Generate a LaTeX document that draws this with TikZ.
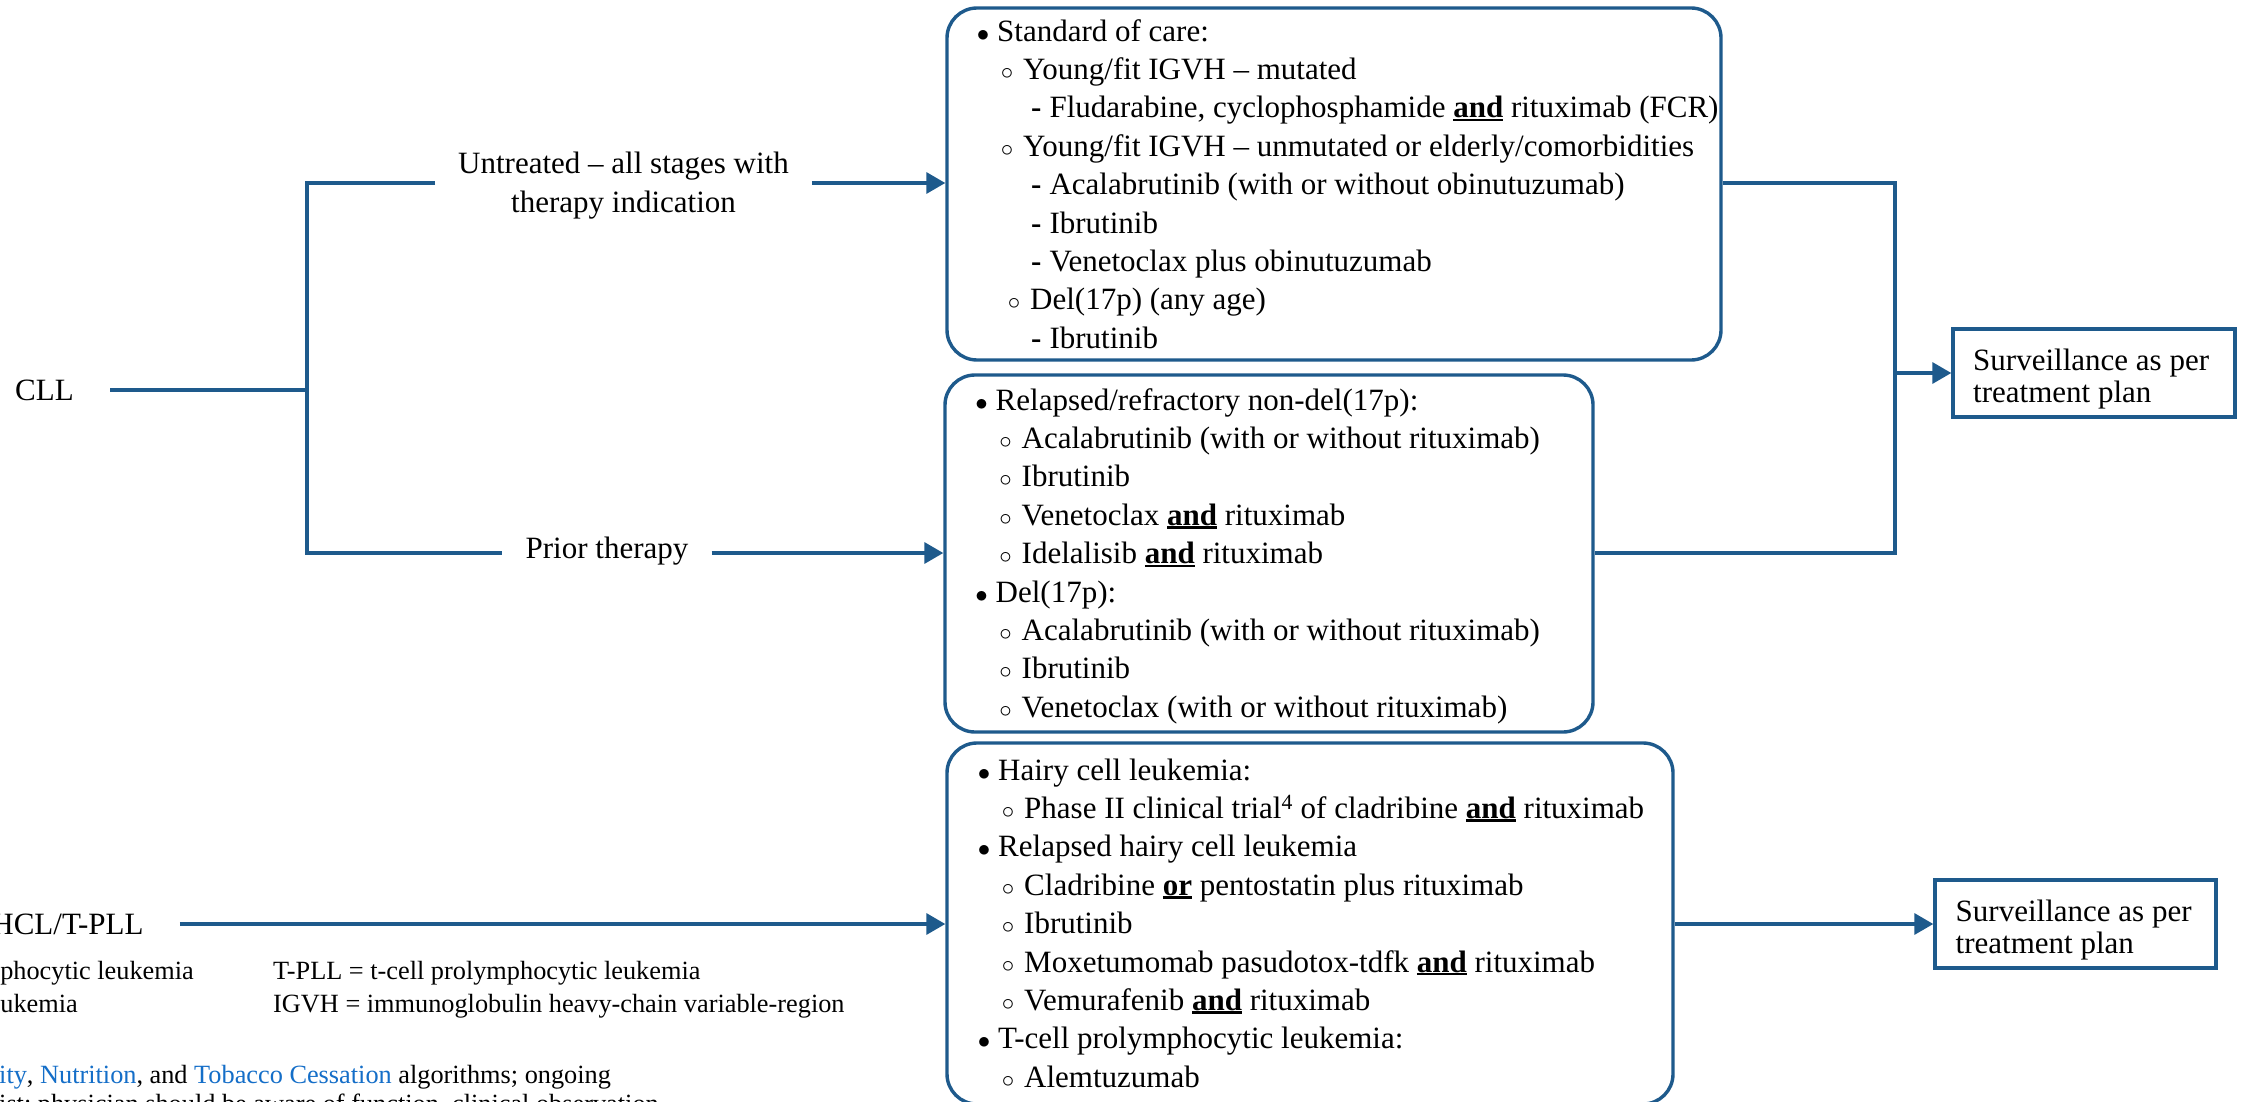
\documentclass[tikz,border=0pt]{standalone}
\usepackage{fontspec}
\setmainfont{Liberation Serif}
\usetikzlibrary{arrows.meta}
\definecolor{nav}{RGB}{30,90,140}
\definecolor{lnk}{RGB}{20,110,200}
\newcommand\Ba{\makebox[16pt][c]{\fontsize{24.88}{26}\selectfont$\bullet$}\hspace{6pt}}
\newcommand\Bb{\makebox[16pt][c]{\fontsize{24.88}{26}\selectfont$\circ$}\hspace{8pt}}
\newcommand\Bc{\textbf{-}\hspace{8pt}}
\newcommand\und[1]{\begingroup\setbox0\hbox{\bfseries #1}\rlap{\rule[-3.2pt]{\wd0}{2.3pt}}\box0\endgroup}
\begin{document}
\begin{tikzpicture}[x=1pt,y=-1pt,
  conn/.style={color=nav,line width=3.4pt},
  arr/.style={conn,-{Triangle[length=19pt,width=21pt]}},
  rbox/.style={draw=nav,line width=3.4pt,rounded corners=30pt,inner sep=0pt},
  sbox/.style={draw=nav,line width=3.4pt,inner sep=0pt,minimum width=282pt,minimum height=88pt},
  lbl/.style={font=\fontsize{31}{39}\selectfont,inner ysep=0pt},
  btext/.style={align=left,inner sep=0pt,anchor=north west,font=\fontsize{31}{38.4}\selectfont},
  stext/.style={align=left,inner sep=0pt,anchor=north west,font=\fontsize{31}{32}\selectfont},
  ftext/.style={inner sep=0pt,font=\fontsize{26.3}{33}\selectfont}]
\fill[white] (0,0) rectangle (2242,1102);
\useasboundingbox (0,0) rectangle (2242,1102);

% boxes
\node[rbox,minimum width=774pt,minimum height=352pt] (box1) at (1334,184) {};
\node[rbox,minimum width=648pt,minimum height=357pt] (box2) at (1269,553.5) {};
\node[rbox,minimum width=726pt,minimum height=361pt] (box3) at (1310,923.5) {};
\node[sbox] (surv1) at (2094,373) {};
\node[sbox,minimum width=281pt] (surv2) at (2075.5,924) {};

% box texts
\node[btext] (t1) at (975,14.1) {\strut\Ba Standard of care:\\
\hspace*{24pt}\Bb Young/fit IGVH – mutated\\
\hspace*{56pt}\Bc Fludarabine, cyclophosphamide \und{and} rituximab (FCR)\\
\hspace*{24pt}\Bb Young/fit IGVH – unmutated or elderly/comorbidities\\
\hspace*{56pt}\Bc Acalabrutinib (with or without obinutuzumab)\\
\hspace*{56pt}\Bc Ibrutinib\\
\hspace*{56pt}\Bc Venetoclax plus obinutuzumab\\
\hspace*{31pt}\Bb Del(17p) (any age)\\
\hspace*{56pt}\Bc Ibrutinib};

\node[btext] (t2) at (973.5,383.1) {\strut\Ba Relapsed/refractory non-del(17p):\\
\hspace*{24pt}\Bb Acalabrutinib (with or without rituximab)\\
\hspace*{24pt}\Bb Ibrutinib\\
\hspace*{24pt}\Bb Venetoclax \und{and} rituximab\\
\hspace*{24pt}\Bb Idelalisib \und{and} rituximab\\
\Ba Del(17p):\\
\hspace*{24pt}\Bb Acalabrutinib (with or without rituximab)\\
\hspace*{24pt}\Bb Ibrutinib\\
\hspace*{24pt}\Bb Venetoclax (with or without rituximab)};

\node[btext] (t3) at (976,753.1) {\strut\Ba Hairy cell leukemia:\\
\hspace*{24pt}\Bb Phase II clinical trial\textsuperscript{4} of cladribine \und{and} rituximab\\
\Ba Relapsed hairy cell leukemia\\
\hspace*{24pt}\Bb Cladribine \und{or} pentostatin plus rituximab\\
\hspace*{24pt}\Bb Ibrutinib\\
\hspace*{24pt}\Bb Moxetumomab pasudotox-tdfk \und{and} rituximab\\
\hspace*{24pt}\Bb Vemurafenib \und{and} rituximab\\
\Ba T-cell prolymphocytic leukemia:\\
\hspace*{24pt}\Bb Alemtuzumab};

\node[stext] (s1t) at (1973,347.6) {\strut Surveillance as per\\treatment plan};
\node[stext] (s2t) at (1955.5,898.6) {\strut Surveillance as per\\treatment plan};

% left labels
\node[lbl,inner xsep=36.5pt] (cll) at (44.5,390) {CLL};
\node[lbl,inner xsep=23pt,align=center] (untr) at (623.5,185.3) {Untreated – all stages with\\therapy indication};
\node[lbl,inner xsep=23pt] (prior) at (607,550.8) {Prior therapy};
\node[lbl,inner xsep=36pt] (hcl) at (67.5,924) {HCL/T-PLL};

% connectors
\coordinate (ja) at (307,183);
\coordinate (jb) at (307,553);
\coordinate (jc) at (307,390);
\draw[conn] (cll.east) -- (jc);
\draw[conn] (ja -| untr.west) -- (ja) -- (jb) -- (jb -| prior.west);
\draw[arr] (ja -| untr.east) -- (ja -| box1.west);
\draw[arr] (jb -| prior.east) -- (jb -| box2.west);

\coordinate (ka) at (1895,183);
\coordinate (kb) at (1895,553);
\coordinate (kc) at (1895,373);
\draw[conn] (ka -| box1.east) -- (ka) -- (kb) -- (kb -| box2.east);
\draw[arr] (kc) -- (surv1.west);

\draw[arr] (hcl.east) -- (hcl.east -| box3.west);
\draw[arr] (box3.east |- surv2.west) -- (surv2.west);

% footer
\node[ftext,anchor=base east] (f1) at (194,979) {phocytic leukemia};
\node[ftext,anchor=base east] (f2) at (78,1012) {ukemia};
\node[ftext,anchor=base west] (f3) at (273,979) {T-PLL = t-cell prolymphocytic leukemia};
\node[ftext,anchor=base west] (f4) at (273,1012) {IGVH = immunoglobulin heavy-chain variable-region};
\node[ftext,anchor=base west] (f5) at (-1,1083) {\textcolor{lnk}{ity}, \textcolor{lnk}{Nutrition}, and \textcolor{lnk}{Tobacco Cessation} algorithms; ongoing};
\node[ftext,anchor=base west] (f6) at (-1,1112) {ist; physician should be aware of function, clinical observation};
\end{tikzpicture}
\end{document}
